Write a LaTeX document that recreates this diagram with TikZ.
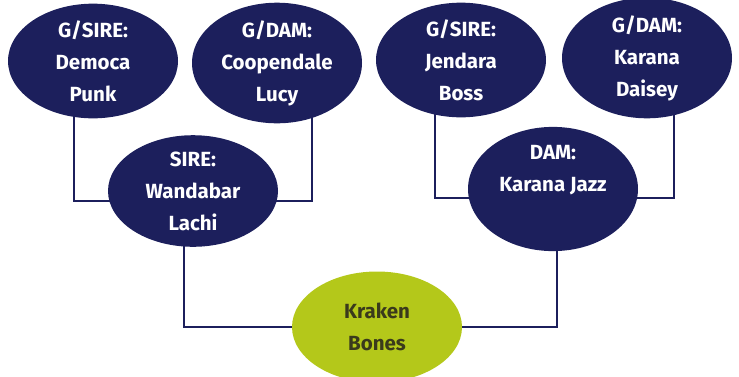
\documentclass[tikz,border=0pt]{standalone}
\usepackage{fontspec}
\setmainfont{Fira Sans}
\usetikzlibrary{shapes.geometric,backgrounds}
\definecolor{navy}{HTML}{1C1F5C}
\definecolor{lime}{HTML}{B4C81A}
\definecolor{olive}{HTML}{3A3A1C}
\begin{document}
\begin{tikzpicture}[x=1pt, y=-1pt, line width=2pt,
  every node/.style={font=\bfseries\fontsize{20.5}{32}\selectfont, align=center},
  horse/.style={ellipse, fill=navy, text=white, minimum width=170pt, minimum height=111pt, inner sep=0pt,
    execute at begin node={\vspace*{11pt}}},
  foal/.style={horse, fill=lime, text=olive},
  link/.style={draw=navy, line width=2pt}]
  \useasboundingbox (0,0) rectangle (739,376);
  % grandparents on top, parents in the middle, the foal at the bottom
  \node[horse] (gsA) at (93,61)  {G/SIRE:\\Democa\\Punk};
  \node[horse] (gdA) at (277,63) {G/DAM:\\Coopendale\\Lucy};
  \node[horse] (gsB) at (461,60) {G/SIRE:\\Jendara\\Boss};
  \node[horse] (gdB) at (647,58) {G/DAM:\\Karana\\Daisey};
  \node[horse] (sire) at (193,191) {SIRE:\\Wandabar\\Lachi};
  \node[horse] (dam) at (553,189) {DAM:\\Karana Jazz\\\strut};
  \node[foal] (kid) at (377,327) {Kraken\\Bones};
  \begin{scope}[on background layer]
    \draw[link] ([xshift=-19pt]gsA.center) |- ([yshift=-10pt]sire.center);
    \draw[link] ([xshift=35pt]gdA.center) |- ([yshift=-10pt]sire.center);
    \draw[link] ([xshift=-26pt]gsB.center) |- ([yshift=-9pt]dam.center);
    \draw[link] ([xshift=27pt]gdB.center) |- ([yshift=-9pt]dam.center);
    \draw[link] ([xshift=-9pt]sire.center) |- (kid.center);
    \draw[link] ([xshift=4pt]dam.center) |- (kid.center);
  \end{scope}
\end{tikzpicture}
\end{document}
